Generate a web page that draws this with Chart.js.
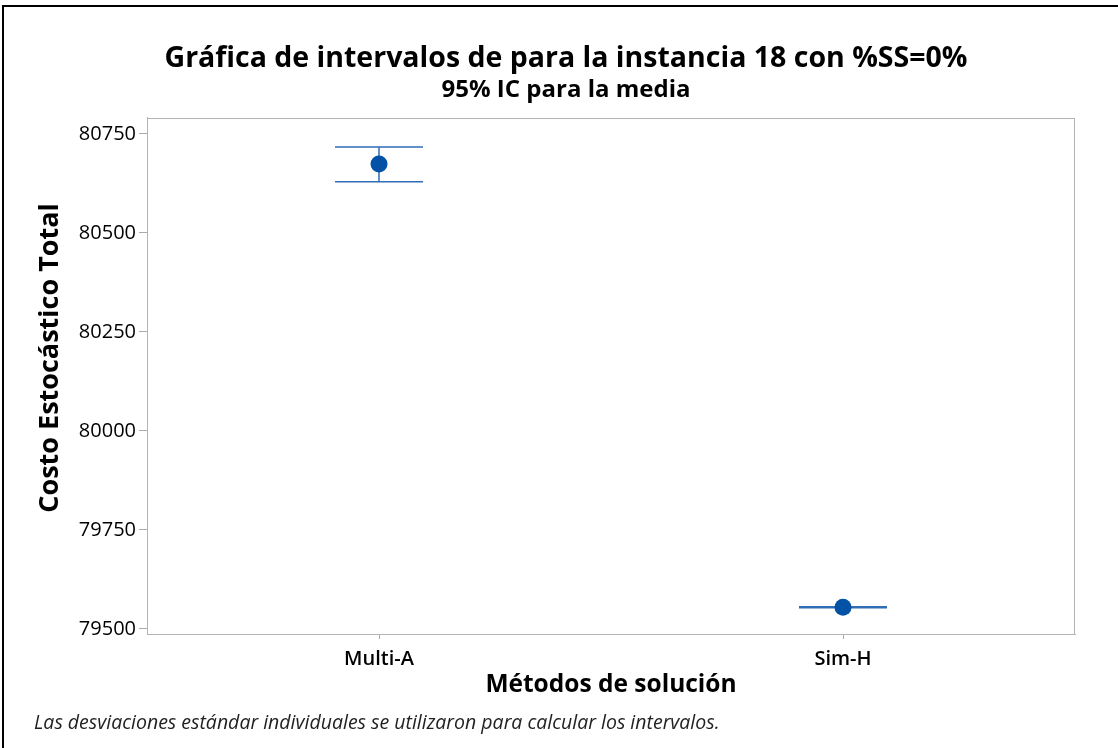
<!DOCTYPE html>
<html>
<head>
<meta charset="utf-8">
<script src="https://cdn.jsdelivr.net/npm/chart.js@4"></script>
<style>
  html, body { margin: 0; padding: 0; background: #fff; }
  #wrap { position: relative; width: 1118px; height: 748px; }
  #frame { position: absolute; left: 2px; top: 5px; right: -5px; bottom: -5px; border-top: 2px solid #000; border-left: 2px solid #000; }
  #note { position: absolute; left: 34px; top: 708px; font: italic 19.5px "Open Sans", sans-serif; color: #222; }
</style>
</head>
<body>
<div id="wrap">
  <canvas id="chart" width="1118" height="748"></canvas>
  <div id="frame"></div>
  <div id="note">Las desviaciones estándar individuales se utilizaron para calcular los intervalos.</div>
</div>
<script>
const categories = ["Multi-A", "Sim-H"];
const means = [80674, 79554.5];
const lowerCI = [80629, 79553.5];
const upperCI = [80717, 79555.5];
const yTicks = [79500, 79750, 80000, 80250, 80500, 80750];
const yTitle = "Costo Estocástico Total";

const font = "'Open Sans', sans-serif";

// intervalos de confianza dibujados con las escalas del gráfico
const intervalPlugin = {
    id: "intervals",
    beforeDatasetsDraw(chart) {
        const ctx = chart.ctx;
        const x = chart.scales.x;
        const y = chart.scales.y;
        ctx.save();
        ctx.strokeStyle = "#2f6db5";
        ctx.lineWidth = 1.5;
        categories.forEach((c, i) => {
            const px = x.getPixelForValue(i);
            const yl = y.getPixelForValue(lowerCI[i]);
            const yu = y.getPixelForValue(upperCI[i]);
            const half = 44;
            ctx.beginPath();
            ctx.moveTo(px, yl); ctx.lineTo(px, yu);
            ctx.moveTo(px - half, yl); ctx.lineTo(px + half, yl);
            ctx.moveTo(px - half, yu); ctx.lineTo(px + half, yu);
            ctx.stroke();
        });
        ctx.restore();
    },
    afterDraw(chart) {
        const a = chart.chartArea;
        const ctx = chart.ctx;
        ctx.save();
        ctx.strokeStyle = "#b4b4b4";
        ctx.lineWidth = 1;
        ctx.strokeRect(a.left + 0.5, a.top + 0.5, a.right - a.left - 1, a.bottom - a.top);
        // titulo del eje y, un poco por encima del centro como en la original
        ctx.translate(50, 358);
        ctx.rotate(-Math.PI / 2);
        ctx.fillStyle = "#000";
        ctx.font = "bold 27px " + font;
        ctx.textAlign = "center";
        ctx.textBaseline = "middle";
        ctx.fillText(yTitle, 0, 0);
        ctx.restore();
    }
};

new Chart(document.getElementById("chart"), {
    type: "line",
    data: {
        labels: categories,
        datasets: [{
            data: means,
            showLine: false,
            pointRadius: 8.5,
            pointHoverRadius: 8.5,
            pointBackgroundColor: "#0452a5",
            pointBorderColor: "#0452a5",
            pointBorderWidth: 0,
        }],
    },
    options: {
        responsive: false,
        animation: false,
        layout: { padding: { left: 57, right: 43, top: 0, bottom: 44 } },
        plugins: {
            legend: { display: false },
            tooltip: { enabled: false },
            title: {
                display: true,
                text: "Gráfica de intervalos de para la instancia 18 con %SS=0%",
                color: "#000",
                font: { family: font, size: 28.5, weight: "bold" },
                padding: { top: 41.5, bottom: 0 },
            },
            subtitle: {
                display: true,
                text: "95% IC para la media",
                color: "#000",
                font: { family: font, size: 24, weight: "bold" },
                padding: { top: 0, bottom: 13.5 },
            },
        },
        scales: {
            x: {
                offset: true,
                afterFit: (s) => { s.height = 70; },
                grid: { display: true, drawOnChartArea: false, color: "#aaa", tickLength: 5, offset: false },
                border: { color: "#b4b4b4" },
                ticks: { color: "#000", font: { family: font, size: 20, weight: "600" }, padding: 8 },
                title: {
                    display: true,
                    text: "Métodos de solución",
                    color: "#000",
                    font: { family: font, size: 24.5, weight: "bold" },
                    padding: { top: 0, bottom: 4 },
                },
            },
            y: {
                min: 79487,
                max: 80790,
                afterFit: (s) => { s.width = 90; },
                afterBuildTicks: (s) => { s.ticks = yTicks.map((v) => ({ value: v })); },
                grid: { display: true, drawOnChartArea: false, color: "#aaa", tickLength: 8 },
                border: { color: "#b4b4b4" },
                ticks: {
                    color: "#000",
                    font: { family: font, size: 20 },
                    padding: 3,
                    callback: (v) => String(v),
                },
            },
        },
    },
    plugins: [intervalPlugin],
});
</script>
</body>
</html>
